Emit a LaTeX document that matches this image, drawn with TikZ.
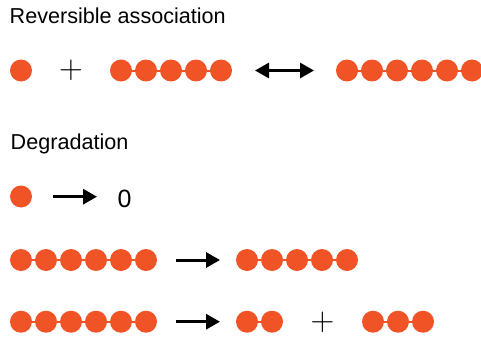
\documentclass[tikz,border=0pt]{standalone}
\usepackage{fontspec}
\setmainfont{Liberation Sans}
\newfontfamily\lmfont{Latin Modern Roman}
\usetikzlibrary{arrows.meta}
\definecolor{beadc}{HTML}{F05325}
\tikzset{
  bead/.style={circle, fill=beadc, draw=none, minimum size=22pt, inner sep=0pt},
  link/.style={draw=beadc, line width=2pt},
  rarrow/.style={line width=3pt, -{Triangle[length=14pt,width=15pt]}},
  darrow/.style={line width=3pt, {Triangle[length=14pt,width=15pt]}-{Triangle[length=14pt,width=15pt]}},
  title/.style={anchor=base west, inner sep=0pt, font=\fontsize{21.6}{25}\selectfont},
  plussign/.style={inner sep=0pt, font=\lmfont\fontsize{33}{33}\selectfont},
  zerosign/.style={anchor=base, inner sep=0pt, font=\fontsize{25}{30}\selectfont},
}
\begin{document}
\begin{tikzpicture}[x=1pt, y=-1pt]
\clip (0,0) rectangle (481,337);
\fill[white] (0,0) rectangle (481,337);

% titles
\node[title] (t1) at (9.5,24) {Reversible association};
\node[title] (t2) at (10.5,149.3) {Degradation};

% ---- Row 1: reversible association
\node[bead] (r1s) at (21,70.5) {};
\node[plussign] (r1p) at (71,70.7) {+};
\foreach \i in {0,...,4} \node[bead] (r1a\i) at (121+25*\i,70.5) {};
\foreach \i [evaluate=\i as \j using int(\i+1)] in {0,...,3} \draw[link] (r1a\i.center) -- (r1a\j.center);
\coordinate (d1s) at (255,70.5);
\coordinate (d1e) at (314,70.5);
\draw[darrow] (d1s) -- (d1e);
\foreach \i in {0,...,5} \node[bead] (r1b\i) at (347+25*\i,70.5) {};
\foreach \i [evaluate=\i as \j using int(\i+1)] in {0,...,4} \draw[link] (r1b\i.center) -- (r1b\j.center);

% ---- Row 2: single degradation
\node[bead] (r2s) at (21,196.5) {};
\coordinate (a2s) at (53,196.7);
\coordinate (a2e) at (97,196.7);
\draw[rarrow] (a2s) -- (a2e);
\node[zerosign] (r2z) at (124.5,207.2) {0};

% ---- Row 3: 6 -> 5
\foreach \i in {0,...,5} \node[bead] (r3a\i) at (21+25*\i,260) {};
\foreach \i [evaluate=\i as \j using int(\i+1)] in {0,...,4} \draw[link] (r3a\i.center) -- (r3a\j.center);
\coordinate (a3s) at (176,260);
\coordinate (a3e) at (220,260);
\draw[rarrow] (a3s) -- (a3e);
\foreach \i in {0,...,4} \node[bead] (r3b\i) at (247+25*\i,260) {};
\foreach \i [evaluate=\i as \j using int(\i+1)] in {0,...,3} \draw[link] (r3b\i.center) -- (r3b\j.center);

% ---- Row 4: 6 -> 2 + 3
\foreach \i in {0,...,5} \node[bead] (r4a\i) at (21+25*\i,321.7) {};
\foreach \i [evaluate=\i as \j using int(\i+1)] in {0,...,4} \draw[link] (r4a\i.center) -- (r4a\j.center);
\coordinate (a4s) at (176,321.7);
\coordinate (a4e) at (220,321.7);
\draw[rarrow] (a4s) -- (a4e);
\node[bead] (r4b0) at (247,321.7) {};
\node[bead] (r4b1) at (272,321.7) {};
\draw[link] (r4b0.center) -- (r4b1.center);
\node[plussign] (r4p) at (322.5,322.2) {+};
\foreach \i in {0,...,2} \node[bead] (r4c\i) at (373+25*\i,321.7) {};
\foreach \i [evaluate=\i as \j using int(\i+1)] in {0,...,1} \draw[link] (r4c\i.center) -- (r4c\j.center);
\end{tikzpicture}
\end{document}
